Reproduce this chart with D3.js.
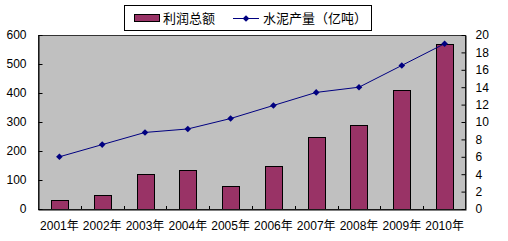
<!DOCTYPE html>
<html><head><meta charset="utf-8">
<script src="https://cdn.jsdelivr.net/npm/d3@7"></script>
<style>body{margin:0;background:#fff}svg{display:block}</style>
</head><body>
<svg id="c" width="508" height="241"></svg>
<script>
const categories = ["2001年","2002年","2003年","2004年","2005年","2006年","2007年","2008年","2009年","2010年"];
const profit = [31, 47, 120, 134, 78, 147, 247, 290, 410, 568];
const cement = [6.0, 7.4, 8.8, 9.2, 10.4, 11.9, 13.4, 14.0, 16.5, 19.0];
const leftTicks = [0,100,200,300,400,500,600];
const rightTicks = [0,2,4,6,8,10,12,14,16,18,20];
const seriesNames = ["利润总额","水泥产量（亿吨）"];

const font = '"Liberation Sans", Arial, "Noto Sans CJK SC", sans-serif';
const svg = d3.select("#c");
const L = 38, R = 466, T = 35, B = 209;

const x = d3.scaleBand().domain(categories).range([L, R]);
const yL = d3.scaleLinear().domain([0,600]).range([B, T]);
const yR = d3.scaleLinear().domain([0,20]).range([B, T]);

svg.append("rect").attr("x", L).attr("y", T).attr("width", R-L).attr("height", B-T)
  .attr("fill", "#c0c0c0");

// bars
const bw = 17;
svg.append("g").selectAll("rect").data(profit).join("rect")
  .attr("x", (d,i) => Math.round(x(categories[i]) + x.bandwidth()/2 - bw/2) + 0.5)
  .attr("y", d => Math.round(yL(d)) + 0.5)
  .attr("width", bw)
  .attr("height", d => B - Math.round(yL(d)))
  .attr("fill", "#993366").attr("stroke", "#000").attr("stroke-width", 1);

// border
svg.append("rect").attr("x", L+0.5).attr("y", T+0.5).attr("width", R-L-1).attr("height", B-T)
  .attr("fill", "none").attr("stroke", "#333").attr("stroke-width", 1);

// left axis
const gl = svg.append("g").attr("transform", `translate(${L+0.5},0)`)
  .call(d3.axisLeft(yL).tickValues(leftTicks).tickSizeInner(-4).tickSizeOuter(0).tickPadding(12));
gl.select(".domain").attr("stroke", "#000");
gl.selectAll("line").attr("stroke", "#000");
gl.selectAll("text").attr("font-family", font).attr("font-size", 12).attr("fill", "#000");

// right axis
const gr = svg.append("g").attr("transform", `translate(${R-0.5},0)`)
  .call(d3.axisRight(yR).tickValues(rightTicks).tickSizeInner(-4).tickSizeOuter(0).tickPadding(10));
gr.select(".domain").attr("stroke", "#000");
gr.selectAll("line").attr("stroke", "#000");
gr.selectAll("text").attr("font-family", font).attr("font-size", 12).attr("fill", "#000");

// bottom axis
const gb = svg.append("g").attr("transform", `translate(0,${B+0.5})`)
  .call(d3.axisBottom(x).tickSize(0).tickPadding(12));
gb.select(".domain").attr("stroke", "#000");
gb.selectAll("text").attr("font-family", font).attr("font-size", 12).attr("fill", "#000");
// category boundary ticks (inside)
svg.append("g").selectAll("line").data(categories.slice(1)).join("line")
  .attr("x1", d => Math.round(x(d)) + 0.5).attr("x2", d => Math.round(x(d)) + 0.5)
  .attr("y1", B - 3).attr("y2", B).attr("stroke", "#000");

// line
const line = d3.line().x((d,i) => x(categories[i]) + x.bandwidth()/2).y(d => yR(d));
svg.append("path").datum(cement).attr("d", line)
  .attr("fill", "none").attr("stroke", "#000080").attr("stroke-width", 1);
const diamond = d3.symbol().type(d3.symbolDiamond2).size(28);
svg.append("g").selectAll("path").data(cement).join("path")
  .attr("transform", (d,i) => `translate(${x(categories[i]) + x.bandwidth()/2},${yR(d)})`)
  .attr("d", diamond).attr("fill", "#000080");

// legend
const lg = svg.append("g");
lg.append("rect").attr("x", 124.5).attr("y", 5.5).attr("width", 247).attr("height", 25)
  .attr("fill", "#fff").attr("stroke", "#000");
lg.append("rect").attr("x", 134.5).attr("y", 14.5).attr("width", 25).attr("height", 7)
  .attr("fill", "#993366").attr("stroke", "#000");
lg.append("text").attr("x", 163).attr("y", 23).text(seriesNames[0])
  .attr("font-family", font).attr("font-size", 13).attr("fill", "#000");
lg.append("line").attr("x1", 233).attr("x2", 259).attr("y1", 18.5).attr("y2", 18.5)
  .attr("stroke", "#000080");
lg.append("path").attr("transform", "translate(246,18.5)").attr("d", diamond).attr("fill", "#000080");
lg.append("text").attr("x", 263).attr("y", 23).text(seriesNames[1])
  .attr("font-family", font).attr("font-size", 13).attr("fill", "#000");
</script>
</body></html>
